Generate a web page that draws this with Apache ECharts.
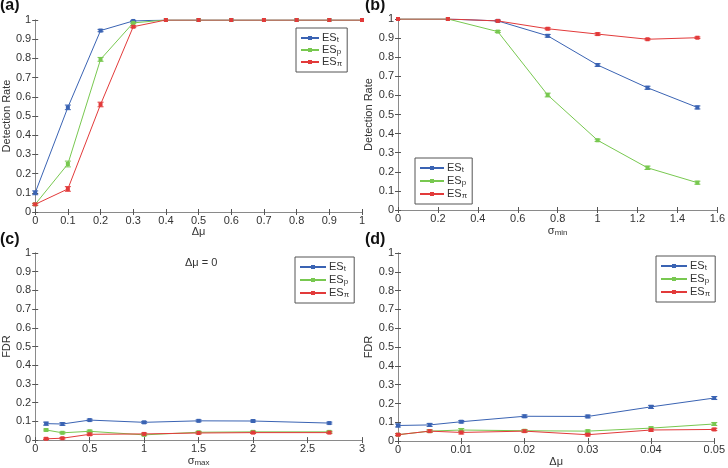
<!DOCTYPE html>
<html><head><meta charset="utf-8">
<script src="https://cdn.jsdelivr.net/npm/echarts@6/dist/echarts.min.js"></script>
<style>html,body{margin:0;padding:0;background:#fff}#c{width:728px;height:468px}</style>
</head><body><div id="c"></div>
<script>
// Panel (a): detection rate vs delta mu
const xA = [0, 0.1, 0.2, 0.3, 0.4, 0.5, 0.6, 0.7, 0.8, 0.9, 1];
const aESt  = [0.10, 0.545, 0.945, 0.995, 1, 1, 1, 1, 1, 1, 1];
const aESp  = [0.04, 0.25, 0.795, 0.985, 1, 1, 1, 1, 1, 1, 1];
const aESpi = [0.04, 0.12, 0.56, 0.965, 1, 1, 1, 1, 1, 1, 1];
const aErrT  = [0.01, 0.012, 0.006, 0.003, 0, 0, 0, 0, 0, 0, 0];
const aErrP  = [0.005, 0.015, 0.01, 0.004, 0, 0, 0, 0, 0, 0, 0];
const aErrPi = [0.005, 0.012, 0.012, 0.005, 0, 0, 0, 0, 0, 0, 0];
// Panel (b): detection rate vs sigma_min
const xB = [0, 0.25, 0.5, 0.75, 1, 1.25, 1.5];
const bESt  = [1, 1, 0.99, 0.912, 0.759, 0.640, 0.537];
const bESp  = [1, 1, 0.934, 0.602, 0.365, 0.221, 0.143];
const bESpi = [1, 1, 0.99, 0.949, 0.921, 0.894, 0.902];
const bErrT  = [0, 0, 0.004, 0.007, 0.007, 0.008, 0.008];
const bErrP  = [0, 0, 0.005, 0.01, 0.006, 0.009, 0.008];
const bErrPi = [0, 0, 0.004, 0.005, 0.006, 0.004, 0.004];
// Panel (c): FDR vs sigma_max
const xC = [0.1, 0.25, 0.5, 1, 1.5, 2, 2.7];
const cESt  = [0.088, 0.086, 0.107, 0.095, 0.103, 0.102, 0.091];
const cESp  = [0.054, 0.039, 0.047, 0.028, 0.042, 0.044, 0.044];
const cESpi = [0.007, 0.010, 0.031, 0.033, 0.038, 0.040, 0.040];
const cErrT  = [0.008, 0.007, 0.005, 0.005, 0.005, 0.005, 0.005];
const cErrP  = [0.005, 0.005, 0.006, 0.005, 0.005, 0.005, 0.005];
const cErrPi = [0.004, 0.004, 0.006, 0.005, 0.005, 0.005, 0.005];
// Panel (d): FDR vs delta mu
const xD = [0, 0.005, 0.01, 0.02, 0.03, 0.04, 0.05];
const dESt  = [0.083, 0.086, 0.103, 0.132, 0.131, 0.182, 0.229];
const dESp  = [0.034, 0.053, 0.059, 0.055, 0.053, 0.069, 0.091];
const dESpi = [0.034, 0.053, 0.046, 0.053, 0.034, 0.059, 0.062];
const dErrT  = [0.008, 0.008, 0.006, 0.007, 0.007, 0.008, 0.008];
const dErrP  = [0.005, 0.006, 0.008, 0.006, 0.006, 0.006, 0.008];
const dErrPi = [0.005, 0.006, 0.008, 0.006, 0.006, 0.006, 0.006];

const names = ['ESt', 'ESp', 'ESpi'];
const colors = ['#3a63b3', '#78c850', '#e23a3a'];
const FONT = 'Liberation Sans, Arial, sans-serif';
const AXC = '#8a8a8a';
const TXT = '#333';

const panels = [
  {grid:{left:33, top:20, width:329, height:192}, x:xA, ys:[aESt,aESp,aESpi], es:[aErrT,aErrP,aErrPi],
   xmin:0, xmax:1, xint:0.1, xname:'{m|Δμ}', yname:'Detection Rate',
   legend:{left:296, top:28, itemWidth:18, itemGap:0}},
  {grid:{left:398, top:19, width:328, height:191}, x:xB, ys:[bESt,bESp,bESpi], es:[bErrT,bErrP,bErrPi],
   xmin:0, xmax:1.6, xint:0.2, xname:'{m|σ}{s|min}', yname:'Detection Rate',
   legend:{left:415, top:158, itemWidth:24, itemGap:1}},
  {grid:{left:34, top:253, width:328, height:190}, x:xC, ys:[cESt,cESp,cESpi], es:[cErrT,cErrP,cErrPi],
   xmin:0, xmax:3, xint:0.5, xname:'{m|σ}{s|max}', yname:'FDR',
   legend:{left:295, top:257, itemWidth:26, itemGap:1}},
  {grid:{left:398, top:253, width:328, height:194}, x:xD, ys:[dESt,dESp,dESpi], es:[dErrT,dErrP,dErrPi],
   xmin:0, xmax:0.05, xint:0.01, xname:'{m|Δμ}', yname:'FDR',
   legend:{left:656, top:256, itemWidth:26, itemGap:1}}
];

const option = {
  animation:false,
  backgroundColor:'#fff',
  grid:[], xAxis:[], yAxis:[], series:[], legend:[],
  graphic:[]
};

const rich = {
  m:{fontSize:11, lineHeight:12, fontFamily:FONT, color:TXT},
  s:{fontSize:8, lineHeight:8, fontFamily:FONT, color:TXT, padding:[4,0,0,0]}
};

function errItem(color){
  return function(params, api){
    const x = api.value(0), y = api.value(1), e = api.value(2);
    if (!e) return null;
    const p1 = api.coord([x, y + e]), p2 = api.coord([x, y - e]);
    const w = 3;
    const st = {stroke:color, lineWidth:1};
    return {type:'group', children:[
      {type:'line', shape:{x1:p1[0], y1:p1[1], x2:p2[0], y2:p2[1]}, style:st},
      {type:'line', shape:{x1:p1[0]-w, y1:p1[1], x2:p1[0]+w, y2:p1[1]}, style:st},
      {type:'line', shape:{x1:p2[0]-w, y1:p2[1], x2:p2[0]+w, y2:p2[1]}, style:st}
    ]};
  };
}

panels.forEach((p, i) => {
  option.grid.push(Object.assign({containLabel:false, show:false}, p.grid));
  const xi = option.xAxis.length, yi = option.yAxis.length;
  const common = {
    min:p.xmin, max:p.xmax, interval:p.xint, gridIndex:i, type:'value',
    axisLine:{show:true, lineStyle:{color:AXC, width:1}},
    axisTick:{show:true, inside:true, length:3, lineStyle:{color:'#555'}},
    splitLine:{show:false}
  };
  option.xAxis.push(Object.assign({}, common, {
    position:'bottom',
    axisLabel:{color:TXT, fontSize:11, fontFamily:FONT, margin:3},
    name:p.xname, nameLocation:'middle', nameGap:8,
    nameTextStyle:{rich:rich, fontSize:11, fontFamily:FONT, color:TXT}
  }));
  option.xAxis.push(Object.assign({}, common, {position:'top', axisLabel:{show:false}}));
  const ycommon = {
    min:0, max:1, interval:0.1, gridIndex:i, type:'value',
    axisLine:{show:true, lineStyle:{color:AXC, width:1}},
    axisTick:{show:true, inside:true, length:3, lineStyle:{color:'#555'}},
    splitLine:{show:false}
  };
  option.yAxis.push(Object.assign({}, ycommon, {
    position:'left',
    axisLabel:{color:TXT, fontSize:11, fontFamily:FONT, margin:4},
    name:p.yname, nameLocation:'middle', nameGap:15,
    nameTextStyle:{fontSize:11, fontFamily:FONT, color:TXT}
  }));
  option.yAxis.push(Object.assign({}, ycommon, {position:'right', axisLabel:{show:false}}));

  p.ys.forEach((ys, k) => {
    option.series.push({
      type:'custom', xAxisIndex:xi, yAxisIndex:yi, renderItem:errItem(colors[k]),
      data:p.x.map((x, j) => [x, ys[j], p.es[k][j]]), silent:true, z:2
    });
  });
  p.ys.forEach((ys, k) => {
    option.series.push({
      type:'line', name:names[k], xAxisIndex:xi, yAxisIndex:yi,
      data:p.x.map((x, j) => [x, ys[j]]),
      symbol:'rect', symbolSize:4, showSymbol:true,
      lineStyle:{color:colors[k], width:1},
      itemStyle:{color:colors[k]},
      z:3
    });
  });

  option.legend.push({
    left:p.legend.left, top:p.legend.top, orient:'vertical',
    data:names, itemWidth:p.legend.itemWidth, itemHeight:5, itemGap:p.legend.itemGap,
    padding:[4,5,4,4], borderColor:'#555', borderWidth:1, backgroundColor:'#fff',
    selectedMode:false,
    formatter:function(n){ return '{m|ES}{s|' + (n === 'ESt' ? 't' : n === 'ESp' ? 'p' : 'π') + '}'; },
    textStyle:{rich:rich, fontSize:11, fontFamily:FONT, color:TXT, padding:[0,0,0,-2]}
  });
});

const lbl = [['(a)',0,-2],['(b)',365,-2],['(c)',0,232],['(d)',365,232]];
lbl.forEach(l => option.graphic.push({type:'text', left:l[1], top:l[2],
  style:{text:l[0], font:'bold 16px ' + FONT, fill:'#111'}}));
option.graphic.push({type:'text', left:185, top:257, style:{text:'Δμ = 0', font:'11px ' + FONT, fill:TXT}});

const chart = echarts.init(document.getElementById('c'), null, {renderer:'canvas'});
chart.setOption(option);
</script></body></html>
